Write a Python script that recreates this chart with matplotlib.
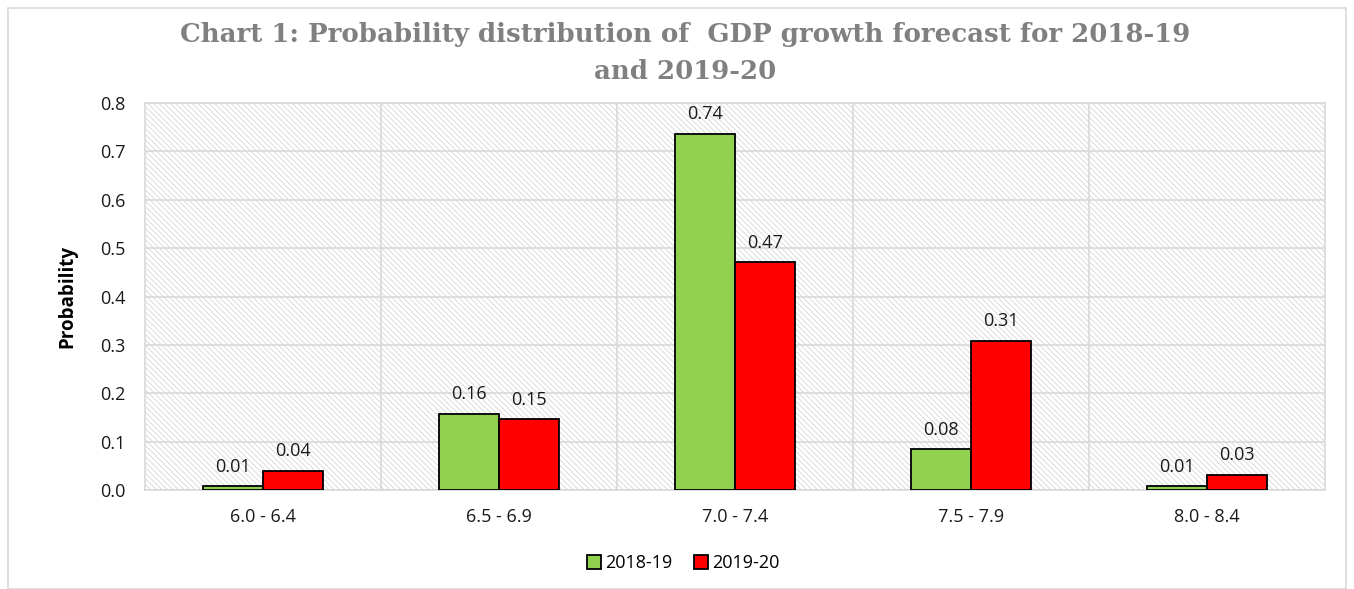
import numpy as np
import matplotlib
matplotlib.use('Agg')
import matplotlib.pyplot as plt
import matplotlib.patches as mpatches

# data
categories = ['6.0 - 6.4', '6.5 - 6.9', '7.0 - 7.4', '7.5 - 7.9', '8.0 - 8.4']
series_names = ['2018-19', '2019-20']
prob_1819 = [0.008, 0.157, 0.737, 0.084, 0.008]
prob_1920 = [0.040, 0.146, 0.471, 0.309, 0.031]
labels_1819 = ['0.01', '0.16', '0.74', '0.08', '0.01']
labels_1920 = ['0.04', '0.15', '0.47', '0.31', '0.03']
yticks = [0.0, 0.1, 0.2, 0.3, 0.4, 0.5, 0.6, 0.7, 0.8]

GREEN = '#92d050'
RED = '#ff0000'
GRID = '#d9d9d9'

plt.rcParams['font.family'] = ['Open Sans', 'DejaVu Sans']
plt.rcParams['hatch.color'] = '#d6d6d6'
plt.rcParams['hatch.linewidth'] = 0.6

fig = plt.figure(figsize=(13.54, 5.89), dpi=100)
ax = fig.add_axes([0.107, 0.168, 0.8716, 0.657])

# outer chart border
fig.patches.append(mpatches.Rectangle((0.006, 0.0), 0.988, 0.986, transform=fig.transFigure,
                                      fill=False, ec=GRID, lw=1.2, zorder=0))

# hatched plot area
ax.add_patch(mpatches.Rectangle((0, 0), 1, 1, transform=ax.transAxes, fc='white',
                                ec='#d6d6d6', lw=0, hatch='\\\\\\\\\\\\', zorder=0))

x = np.arange(len(categories))
w = 0.254
b1 = ax.bar(x - w / 2, prob_1819, w, color=GREEN, edgecolor='black', lw=1.3,
            label=series_names[0], zorder=3)
b2 = ax.bar(x + w / 2, prob_1920, w, color=RED, edgecolor='black', lw=1.3,
            label=series_names[1], zorder=3)

for rect, lab in zip(b1, labels_1819):
    ax.text(rect.get_x() + rect.get_width() / 2, rect.get_height() + 0.022, lab,
            ha='center', va='bottom', fontsize=13, color='#1a1a1a', zorder=4)
for rect, lab in zip(b2, labels_1920):
    ax.text(rect.get_x() + rect.get_width() / 2, rect.get_height() + 0.022, lab,
            ha='center', va='bottom', fontsize=13, color='#1a1a1a', zorder=4)

ax.set_xlim(-0.5, len(categories) - 0.5)
ax.set_ylim(0, 0.8)
ax.set_yticks(yticks)
ax.set_yticklabels([f'{v:.1f}' for v in yticks])
ax.set_xticks(x)
ax.set_xticklabels(categories)
ax.tick_params(length=0, labelsize=13, colors='#1a1a1a')
ax.tick_params(axis='x', pad=13)
ax.tick_params(axis='y', pad=14)

# gridlines: horizontal at ticks, vertical between categories
for yv in yticks:
    ax.axhline(yv, color=GRID, lw=1.2, zorder=1)
for xv in np.arange(0.5, len(categories) - 0.5):
    ax.axvline(xv, color=GRID, lw=1.2, zorder=1)
for s in ax.spines.values():
    s.set_color(GRID)
    s.set_linewidth(1.2)

ax.set_ylabel('Probability', fontsize=13.5, fontweight='bold', labelpad=16)

fig.suptitle('Chart 1: Probability distribution of  GDP growth forecast for 2018-19\nand 2019-20',
             x=0.506, y=0.962, fontsize=18.7, fontweight='bold', color='#808080',
             family=['DejaVu Serif'], linespacing=1.6)

ax.legend(loc='upper center', bbox_to_anchor=(0.456, -0.124), ncol=2, frameon=False,
          fontsize=13, handlelength=0.8, handleheight=0.8, handletextpad=0.2,
          columnspacing=1.2)

fig.savefig('out.png', dpi=100)
